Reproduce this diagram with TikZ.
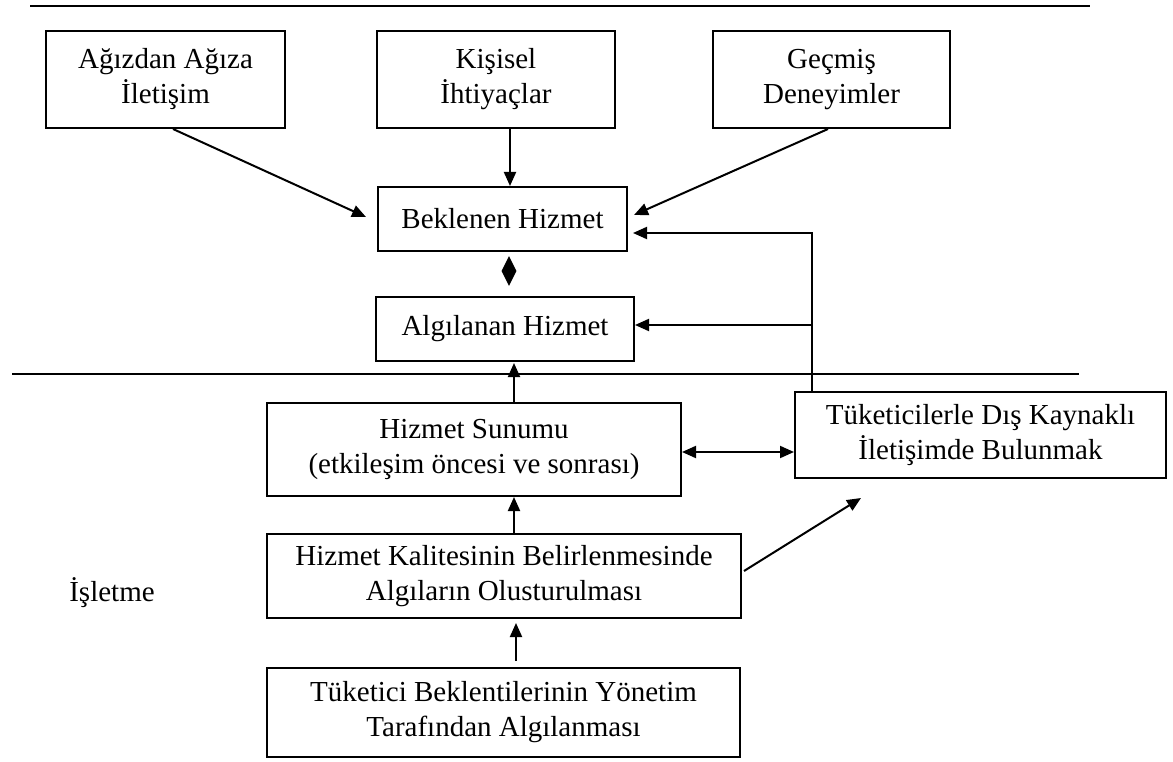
\documentclass[tikz,border=0pt]{standalone}
\usepackage{fontspec}
\setmainfont{Liberation Serif}
\usetikzlibrary{arrows.meta,shapes.geometric,calc}
\begin{document}
\begin{tikzpicture}[x=1pt,y=-1pt,
  txt/.style={font=\fontsize{29}{35}\selectfont},
  box/.style={txt, draw, line width=2pt, align=center, inner sep=0pt},
  conn/.style={line width=2pt, -{Triangle[length=14pt,width=12pt]}},
  dconn/.style={line width=2pt, {Triangle[length=14pt,width=12pt]}-{Triangle[length=14pt,width=12pt]}},
  sep/.style={line width=1.2pt}]
\useasboundingbox (0,0) rectangle (1173,762);

% separator lines
\draw[sep] (30,6) -- (1090,6);
\draw[sep] (12,374) -- (1079,374);

% customer side
\node[box, minimum width=239pt, minimum height=97pt] (wom)   at (165.5,79.5) {Ağızdan Ağıza\\İletişim};
\node[box, minimum width=238pt, minimum height=97pt] (needs) at (496,79.5)   {Kişisel\\İhtiyaçlar};
\node[box, minimum width=237pt, minimum height=97pt] (past)  at (831.5,79.5) {Geçmiş\\Deneyimler};
\node[box, minimum width=249pt, minimum height=64pt] (exp)   at (502.5,219)  {Beklenen Hizmet};
\node[diamond, fill=black, inner sep=0pt, minimum width=15pt, minimum height=30pt, aspect=0.5] (gap) at (509,271) {};
\node[box, minimum width=258pt, minimum height=64pt] (perc)  at (505,329)    {Algılanan Hizmet};

% firm side
\node[box, minimum width=414pt, minimum height=93pt] (svc)  at (474,449.5)   {Hizmet Sunumu\\(etkileşim öncesi ve sonrası)};
\node[box, minimum width=371pt, minimum height=86pt] (ext)  at (980.5,435)   {Tüketicilerle Dış Kaynaklı\\İletişimde Bulunmak};
\node[box, minimum width=474pt, minimum height=84pt] (qual) at (504,576)     {Hizmet Kalitesinin Belirlenmesinde\\Algıların Olusturulması};
\node[box, minimum width=473pt, minimum height=89pt] (mgmt) at (503.5,712.5) {Tüketici Beklentilerinin Yönetim\\Tarafından Algılanması};
\node[txt] (firm) at (112,593) {İşletme};

% connectors
\draw[conn] ($(wom.south)+(7.5,0)$) -- ($(exp.west)+(-11,-2)$);
\draw[conn] ($(needs.south)+(14,0)$) -- ($(exp.north)+(7.5,0)$);
\draw[conn] ($(past.south)+(-3.5,0)$) -- ($(exp.east)+(6,-4)$);
\coordinate (fb) at ($(ext.north west)+(18,0)$);
\draw[conn] (fb) |- ($(exp.east)+(5,14)$);
\draw[conn] ($(fb |- perc.east)+(0,-4)$) -- ($(perc.east)+(0,-4)$);
\draw[conn] ($(svc.north)+(40,0)$) -- ($(perc.south)+(9,1)$);
\draw[dconn] ($(svc.east)+(0,2.5)$) -- ($(svc.east -| ext.west)+(0,2.5)$);
\draw[conn] ($(qual.north)+(10,0)$) -- ($(svc.south)+(40,0)$);
\draw[conn] ($(qual.east)+(2,-5)$) -- ($(ext.south west)+(67,19)$);
\draw[conn] ($(mgmt.north)+(12.5,-6)$) -- ($(qual.south)+(12,4)$);
\end{tikzpicture}
\end{document}
